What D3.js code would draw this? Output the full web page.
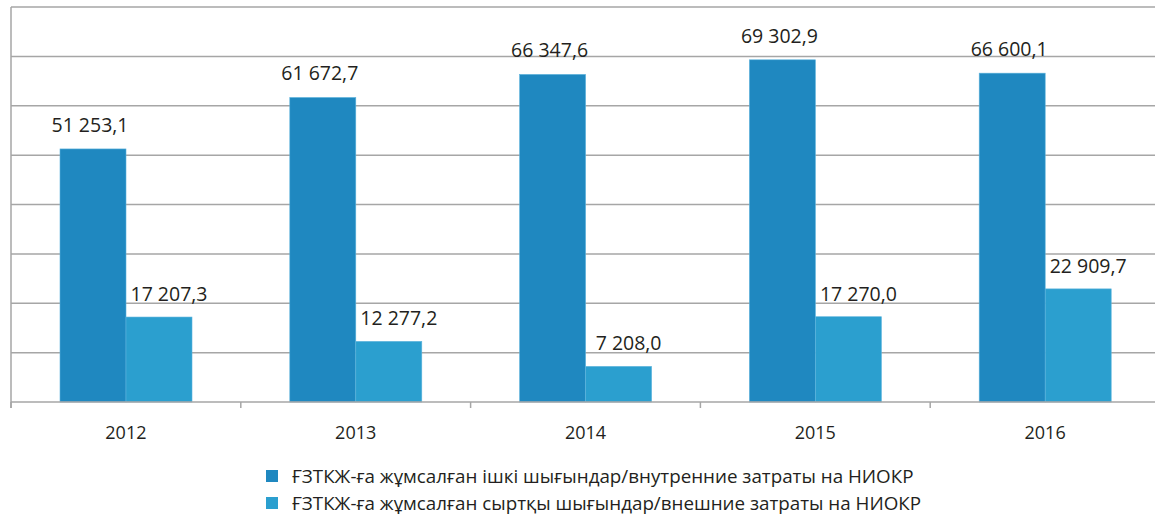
<!DOCTYPE html>
<html>
<head>
<meta charset="utf-8">
<script src="https://cdn.jsdelivr.net/npm/d3@7"></script>
<style>
  body { margin: 0; background: #fff; }
  svg { display: block; font-family: "Open Sans", "DejaVu Sans", sans-serif; }
</style>
</head>
<body>
<div id="chart"></div>
<script>
// data
var years = ["2012", "2013", "2014", "2015", "2016"];
var internalCosts = [51253.1, 61672.7, 66347.6, 69302.9, 66600.1];
var externalCosts = [17207.3, 12277.2, 7208.0, 17270.0, 22909.7];
var seriesNames = [
  "ҒЗТКЖ-ға жұмсалған ішкі шығындар/внутренние затраты на НИОКР",
  "ҒЗТКЖ-ға жұмсалған сыртқы шығындар/внешние затраты на НИОКР"
];
var seriesColors = ["#1f88c0", "#2b9fcf"];
var yTicks = [0, 10000, 20000, 30000, 40000, 50000, 60000, 70000, 80000];

var width = 1155, height = 520;
var margin = { top: 7, left: 11, bottom: 118 };
var bandW = 229.8;

var svg = d3.select("#chart").append("svg")
  .attr("width", width)
  .attr("height", height);

var x = d3.scaleBand().domain(years).range([margin.left, margin.left + bandW * years.length]);
var xSub = d3.scaleBand().domain([0, 1]).range([49, 181]);
var y = d3.scaleLinear().domain([0, 80000]).range([height - margin.bottom, margin.top]);

// number format with space grouping and comma decimal
var fmt = function (v) {
  var s = v.toFixed(1).split(".");
  return s[0].replace(/\B(?=(\d{3})+(?!\d))/g, " ") + "," + s[1];
};

// gridlines
svg.append("g")
  .selectAll("line")
  .data(yTicks.slice(1))
  .enter().append("line")
  .attr("x1", margin.left)
  .attr("x2", width)
  .attr("y1", function (d) { return y(d); })
  .attr("y2", function (d) { return y(d); })
  .attr("stroke", "#a6a6a6")
  .attr("stroke-width", 1.5);

// left axis line
svg.append("line")
  .attr("x1", margin.left).attr("x2", margin.left)
  .attr("y1", y(80000)).attr("y2", y(0) + 6)
  .attr("stroke", "#a6a6a6").attr("stroke-width", 1.5);

var data = years.map(function (yr, i) {
  return { year: yr, values: [internalCosts[i], externalCosts[i]] };
});

var groups = svg.append("g").selectAll("g")
  .data(data)
  .enter().append("g")
  .attr("transform", function (d) { return "translate(" + x(d.year) + ",0)"; });

groups.selectAll("rect")
  .data(function (d) { return d.values.map(function (v, j) { return { v: v, j: j }; }); })
  .enter().append("rect")
  .attr("x", function (d) { return xSub(d.j); })
  .attr("y", function (d) { return y(d.v); })
  .attr("width", xSub.bandwidth())
  .attr("height", function (d) { return y(0) - y(d.v); })
  .attr("fill", function (d) { return seriesColors[d.j]; })
  .attr("stroke", "#5db3dc")
  .attr("stroke-width", 0.6);

// value labels: dark ones centred, light ones nudged to the right
groups.selectAll("text.val")
  .data(function (d) { return d.values.map(function (v, j) { return { v: v, j: j }; }); })
  .enter().append("text")
  .attr("class", "val")
  .attr("x", function (d) { return xSub(d.j) + xSub.bandwidth() / 2 + (d.j === 0 ? -3 : 10); })
  .attr("y", function (d) { return y(d.v) - (d.j === 0 ? 17 : 16); })
  .attr("text-anchor", "middle")
  .attr("font-size", 19.5)
  .attr("fill", "#231f20")
  .text(function (d) { return fmt(d.v); });

// x axis
var xAxis = svg.append("g")
  .attr("transform", "translate(0," + y(0) + ")")
  .call(d3.axisBottom(x).tickSize(0).tickPadding(24));
xAxis.select(".domain").remove();
xAxis.selectAll("text")
  .attr("font-size", 18)
  .attr("fill", "#231f20")
  .attr("font-family", "\"Open Sans\", sans-serif");

svg.append("line")
  .attr("x1", margin.left).attr("x2", width)
  .attr("y1", y(0)).attr("y2", y(0))
  .attr("stroke", "#a6a6a6").attr("stroke-width", 1.5);

// tick marks at band edges
svg.append("g").selectAll("line")
  .data(years)
  .enter().append("line")
  .attr("x1", function (d) { return x(d); })
  .attr("x2", function (d) { return x(d); })
  .attr("y1", y(0))
  .attr("y2", y(0) + 6)
  .attr("stroke", "#a6a6a6").attr("stroke-width", 1.5);

// legend
var legend = svg.append("g").selectAll("g")
  .data(seriesNames)
  .enter().append("g")
  .attr("transform", function (d, i) { return "translate(266," + (470 + i * 27) + ")"; });
legend.append("rect")
  .attr("width", 12).attr("height", 12)
  .attr("fill", function (d, i) { return seriesColors[i]; });
legend.append("text")
  .attr("x", 26).attr("y", 6)
  .attr("dy", "0.35em")
  .attr("font-size", 18.8)
  .attr("fill", "#231f20")
  .text(function (d) { return d; });
</script>
</body>
</html>
